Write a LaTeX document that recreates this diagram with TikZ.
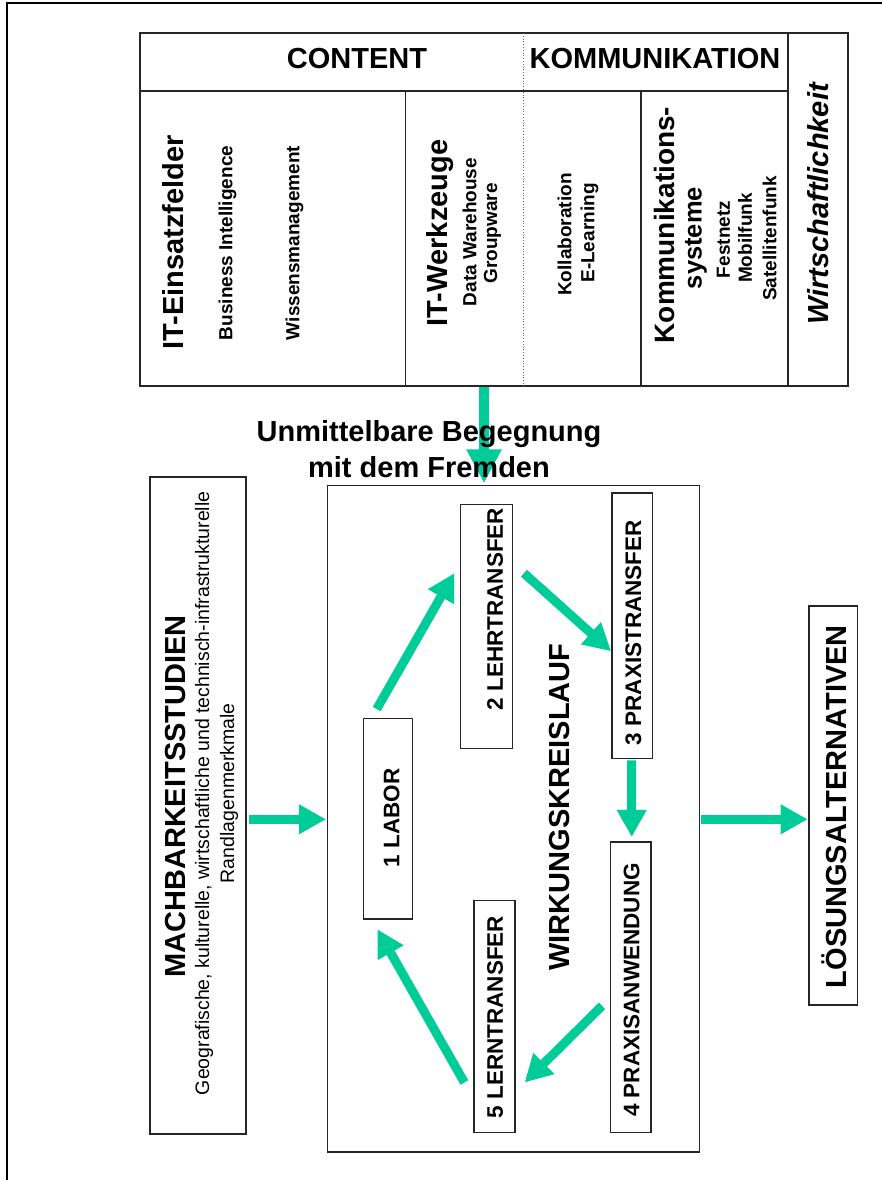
\documentclass[tikz,border=0pt]{standalone}
\usepackage{fontspec}
\setmainfont{Liberation Sans}
\usetikzlibrary{arrows.meta,calc}
\definecolor{teal1}{RGB}{0,204,153}
\begin{document}
\begin{tikzpicture}[x=1pt,y=-1pt,
  box/.style={draw=black!85, line width=1.3pt, inner sep=0pt},
  tl/.style={draw=black!85, line width=1.3pt},
  arr/.style={draw=teal1, line width=9pt, -{Triangle[length=27pt,width=28pt]}},
  rt/.style={rotate=90, inner sep=0pt},
  big/.style={inner sep=0pt, font=\fontsize{29}{36}\selectfont\bfseries},
  mid/.style={font=\fontsize{28}{32}\selectfont\bfseries},
  mids/.style={font=\fontsize{25.5}{30}\selectfont\bfseries},
  small/.style={font=\fontsize{19}{23}\selectfont\bfseries},
  lab/.style={font=\fontsize{22.5}{27}\selectfont\bfseries},
  reg/.style={font=\fontsize{19.5}{24}\selectfont},
]
\useasboundingbox (0,0) rectangle (882,1180);
\fill[white] (0,0) rectangle (882,1180);
% outer frame
\draw[line width=2pt] (7,1182) -- (7,3) -- (884,3);

% top table
\node[box, minimum width=708pt, minimum height=353pt] (table) at (494,209.5) {};
\draw[tl] (140,91) -- (788,91);
\draw[tl] (788,33) -- (788,386);
\draw[tl] (405.7,91) -- (405.7,386);
\draw[tl] (641,91) -- (641,386);
\draw[black!60, line width=0.8pt, dotted] (523,33) -- (523,386);

\node[big] (content) at (357,58.8) {CONTENT};
\node[big] (kommhead) at (655,58.7) {KOMMUNIKATION};

\node[big, rt] (itein) at (173.5,242.5) {IT-Einsatzfelder};
\node[small, rt] (bi) at (227.5,243) {Business Intelligence};
\node[small, rt] (wm) at (294.5,243) {Wissensmanagement};

\node[big, rt] (itwerk) at (440,233) {IT-Werkzeuge};
\node[small, rt] (dw) at (469.5,232) {Data Warehouse};
\node[small, rt] (gw) at (492.5,233.5) {Groupware};

\node[small, rt] (koll) at (564.5,234.5) {Kollaboration};
\node[small, rt] (el) at (589.5,233) {E-Learning};

\node[mid, rt] (ksys1) at (664,225) {Kommunikations-};
\node[mids, rt] (ksys2) at (696,238) {systeme};
\node[small, rt] (fest) at (723.5,239.5) {Festnetz};
\node[small, rt] (mobil) at (745,238) {Mobilfunk};
\node[small, rt] (sat) at (769.5,238.5) {Satellitenfunk};

\node[rt, font=\fontsize{29}{35}\selectfont\bfseries\itshape] (wirt) at (818.5,204) {Wirtschaftlichkeit};

% lower boxes
\node[box, minimum width=96pt, minimum height=657pt] (mach) at (198,805.5) {};
\node[box, minimum width=372pt, minimum height=666.8pt] (wirk) at (513.3,818.6) {};
\node[box, minimum width=49pt, minimum height=200.7pt] (labor) at (388.2,818.75) {};
\node[box, minimum width=52.4pt, minimum height=244pt] (lehr) at (486.5,626.7) {};
\node[box, minimum width=40.7pt, minimum height=265.7pt] (ptrans) at (632.35,625.85) {};
\node[box, minimum width=40.7pt, minimum height=290.4pt] (panw) at (630.65,987.2) {};
\node[box, minimum width=41pt, minimum height=231.9pt] (lern) at (494.5,1016.45) {};
\node[box, minimum width=48.7pt, minimum height=399pt] (loes) at (833.35,805.5) {};

% arrows
\draw[arr, line width=10pt, -{Triangle[length=34pt,width=33pt]}]
  ($(table.south)+(-10,0)$) -- ($(wirk.north)+(-29.3,-1.2)$);
\draw[arr] ($(mach.east)+(2.3,13.8)$) -- ($(wirk.west)+(-0.6,0.7)$);
\draw[arr] ($(wirk.east)+(0.7,0.7)$) -- ($(loes.west)+(-0.7,13.8)$);
\draw[arr] ($(labor.north)+(-11.5,-8.7)$) -- ($(lehr.west)+(-5.3,-53.5)$);
\draw[arr] ($(lehr.east)+(10.6,-53.5)$) -- ($(ptrans.west)+(-0.3,25.35)$);
\draw[arr] ($(ptrans.south)+(-0.65,1)$) -- ($(panw.north)+(1.05,-4.4)$);
\draw[arr] ($(panw.west)+(-7.6,18.6)$) -- ($(lern.east)+(9,66)$);
\draw[arr] ($(lern.west)+(-9,66)$) -- ($(labor.south)+(-10.9,9.5)$);

% texts
\node[big, align=center] (unm) at (429,449) {Unmittelbare Begegnung\\mit dem Fremden};

\node[big, rt] (machT) at (176,796.5) {MACHBARKEITSSTUDIEN};
\node[reg, rt] (geo) at (204.2,793.3) {Geografische, kulturelle, wirtschaftliche und technisch-infrastrukturelle};
\node[reg, rt] (rand) at (229.2,793.3) {Randlagenmerkmale};

\node[big, rt] (wkl) at (560,807) {WIRKUNGSKREISLAUF};
\node[lab, rt] (laborT) at (391.5,818) {1 LABOR};
\node[lab, rt] (lehrT) at (495,609) {2 LEHRTRANSFER};
\node[lab, rt] (ptransT) at (633.5,632.5) {3 PRAXISTRANSFER};
\node[lab, rt] (panwT) at (631.5,990) {4 PRAXISANWENDUNG};
\node[lab, rt] (lernT) at (495,1017) {5 LERNTRANSFER};
\node[big, rt] (loesT) at (834,806.7) {LÖSUNGSALTERNATIVEN};
\end{tikzpicture}
\end{document}
